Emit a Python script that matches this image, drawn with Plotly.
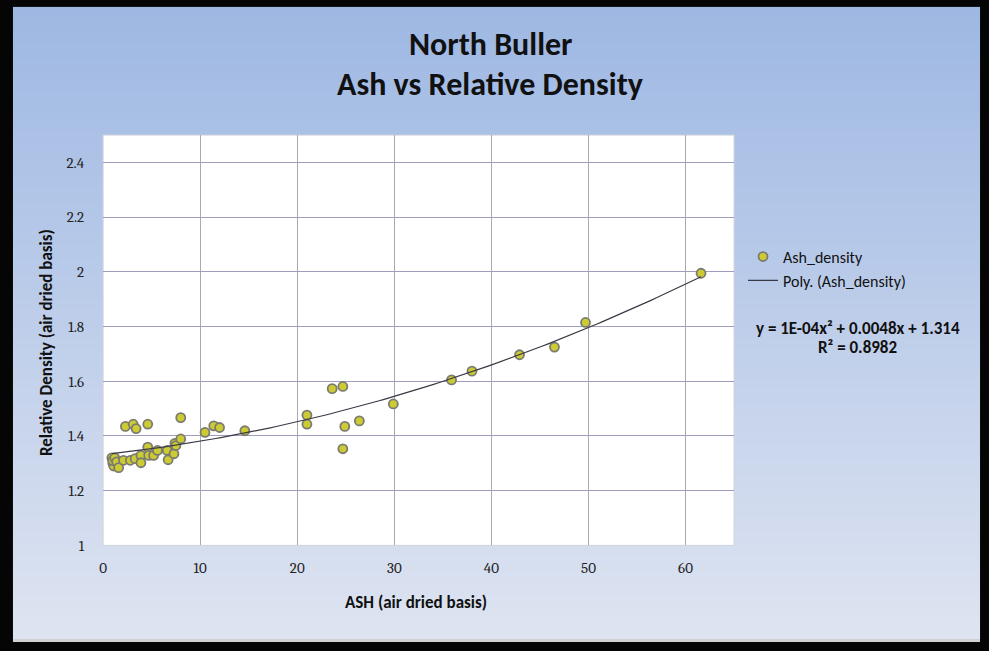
import base64
import struct
import zlib

import numpy as np
import plotly.graph_objects as go

# Data
ash = [0.9, 1.0, 1.1, 1.0, 1.2, 1.4, 1.6, 2.1, 2.8, 3.3, 3.9, 3.9, 4.6, 4.7, 5.2, 5.6,
       6.6, 6.7, 7.3, 7.4, 7.5, 8.0, 2.3, 3.1, 3.4, 4.6, 8.0,
       10.5, 11.4, 12.0, 14.6, 21.0, 21.0, 23.6, 24.7, 24.9, 24.7, 26.4, 29.9,
       35.9, 38.0, 42.9, 46.5, 49.7, 61.6]
density = [1.32, 1.30, 1.29, 1.31, 1.32, 1.305, 1.284, 1.311, 1.311, 1.317, 1.329, 1.302,
           1.359, 1.329, 1.329, 1.347, 1.347, 1.313, 1.335, 1.373, 1.365, 1.389,
           1.435, 1.443, 1.427, 1.443, 1.467,
           1.413, 1.437, 1.431, 1.419, 1.476, 1.443, 1.573, 1.581, 1.435, 1.353, 1.455,
           1.517, 1.605, 1.637, 1.697, 1.725, 1.815, 1.995]
x_ticks = [0, 10, 20, 30, 40, 50, 60]
y_ticks = [1, 1.2, 1.4, 1.6, 1.8, 2, 2.2, 2.4]
title_lines = ["North Buller", "Ash vs Relative Density"]
equation_text = "y = 1E-04x\u00b2 + 0.0048x + 1.314"
r2_text = "R\u00b2 = 0.8982"

W, H = 989, 651
# plot area in pixels
PL, PR, PT, PB = 99.5, 733, 137, 553

# 2nd order polynomial trendline fitted to the data (as Excel does)
coef = np.polyfit(ash, density, 2)
tx = np.linspace(min(ash), max(ash), 120)
ty = np.polyval(coef, tx)

CAL = "Calibri, Carlito, 'Liberation Sans Narrow', 'Open Sans', sans-serif"
SERIF = "Cambria, Caladea, 'Liberation Serif', 'DejaVu Serif', serif"


def gradient_png(top, bottom, rows=256):
    raw = b""
    for i in range(rows):
        t = i / (rows - 1)
        c = [int(round(top[k] * (1 - t) + bottom[k] * t)) for k in range(3)]
        raw += b"\x00" + bytes(c) * 2
    def chunk(tag, data):
        return struct.pack(">I", len(data)) + tag + data + struct.pack(">I", zlib.crc32(tag + data) & 0xffffffff)
    png = b"\x89PNG\r\n\x1a\n"
    png += chunk(b"IHDR", struct.pack(">IIBBBBB", 2, rows, 8, 2, 0, 0, 0))
    png += chunk(b"IDAT", zlib.compress(raw))
    png += chunk(b"IEND", b"")
    return "data:image/png;base64," + base64.b64encode(png).decode()


bg_src = gradient_png((158, 184, 227), (222, 228, 241))

fig = go.Figure()
fig.add_trace(go.Scatter(
    x=ash, y=density, mode="markers", name="Ash_density",
    marker=dict(size=9, color="#cccb34", line=dict(color="#7b7b70", width=1.8)),
))
fig.add_trace(go.Scatter(
    x=tx, y=ty, mode="lines", name="Poly. (Ash_density)",
    line=dict(color="#3a3a46", width=1.2),
))

fx0, fx1, fy0, fy1 = 9, 980, 7, 648
images = [dict(source=bg_src, xref="paper", yref="paper",
               x=fx0 / W, y=1 - fy0 / H, sizex=(fx1 - fx0) / W, sizey=(fy1 - fy0) / H,
               xanchor="left", yanchor="top", sizing="stretch", layer="below")]

shapes = [
    # white plot area
    dict(type="rect", xref="paper", yref="paper",
         x0=PL / W, x1=PR / W, y0=1 - PB / H, y1=1 - PT / H,
         fillcolor="white", line=dict(color="#d0d4dc", width=1), layer="below"),
    # bottom light strip
    dict(type="rect", xref="paper", yref="paper",
         x0=fx0 / W, x1=fx1 / W, y0=0, y1=1 - fy1 / H,
         fillcolor="#d2d2d2", line=dict(width=0), layer="below"),
]

annotations = [
    dict(text="<b>" + title_lines[0] + "</b>", x=488 / W, y=1 - 45 / H, xref="paper", yref="paper",
         showarrow=False, font=dict(family=CAL, size=32, color="#111111"), xanchor="center", yanchor="middle"),
    dict(text="<b>" + title_lines[1] + "</b>", x=488 / W, y=1 - 86 / H, xref="paper", yref="paper",
         showarrow=False, font=dict(family=CAL, size=32, color="#111111"), xanchor="center", yanchor="middle"),
    dict(text="<b>Relative Density (air dried basis)</b>", x=42 / W, y=1 - 347 / H, xref="paper", yref="paper",
         showarrow=False, textangle=-90, font=dict(family=CAL, size=17, color="#111111"),
         xanchor="center", yanchor="middle"),
    dict(text="<b>ASH (air dried basis)</b>", x=414 / W, y=1 - 611 / H, xref="paper", yref="paper",
         showarrow=False, font=dict(family=CAL, size=17, color="#111111"), xanchor="center", yanchor="middle"),
    dict(text="<b>" + equation_text + "</b>", x=857 / W, y=1 - 333 / H, xref="paper", yref="paper",
         showarrow=False, font=dict(family=CAL, size=17, color="#111111"), xanchor="center", yanchor="middle"),
    dict(text="<b>" + r2_text + "</b>", x=857 / W, y=1 - 352 / H, xref="paper", yref="paper",
         showarrow=False, font=dict(family=CAL, size=17, color="#111111"), xanchor="center", yanchor="middle"),
]

fig.update_layout(
    width=W, height=H,
    margin=dict(l=0, r=0, t=0, b=0),
    paper_bgcolor="#050505",
    plot_bgcolor="rgba(0,0,0,0)",
    images=images,
    shapes=shapes,
    annotations=annotations,
    showlegend=True,
    legend=dict(x=742 / W, y=1 - 243 / H, xanchor="left", yanchor="top",
                bgcolor="rgba(0,0,0,0)", font=dict(family=CAL, size=16, color="#111111"),
                itemwidth=30, tracegroupgap=4),
    xaxis=dict(domain=[PL / W, PR / W], range=[0, 65], tickvals=x_ticks,
               showgrid=True, gridcolor="#a9a9b0", gridwidth=1, zeroline=False,
               showline=False, ticks="", ticklabelstandoff=12,
               tickfont=dict(family=SERIF, size=15, color="#222222")),
    yaxis=dict(domain=[1 - PB / H, 1 - PT / H], range=[1, 2.5], tickvals=y_ticks,
               ticktext=[f"{v:g}" for v in y_ticks],
               showgrid=True, gridcolor="#9d9dbd", gridwidth=1, zeroline=False,
               showline=False, ticks="", ticklabelstandoff=18,
               tickfont=dict(family=SERIF, size=15, color="#222222")),
)

fig.write_html("out.html", config={"displayModeBar": False},
               post_script="document.body.style.margin='0';document.body.style.overflow='hidden';")
